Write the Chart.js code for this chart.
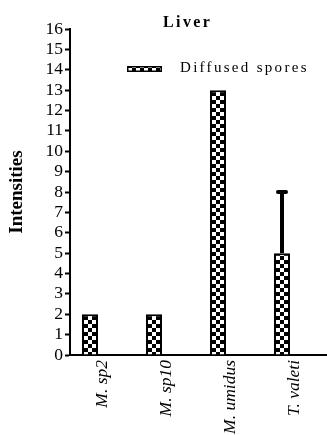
<!DOCTYPE html>
<html>
<head>
<meta charset="utf-8">
<script src="https://cdn.jsdelivr.net/npm/chart.js@4"></script>
<style>
  html, body { margin: 0; padding: 0; background: #fff; }
  #wrap { width: 327px; height: 435px; position: relative; }
</style>
</head>
<body>
<div id="wrap"><canvas id="c" width="327" height="435"></canvas></div>
<script>
const chartTitle = 'Liver';
const yAxisTitle = 'Intensities';
const categories = ['M. sp2', 'M. sp10', 'M. umidus', 'T. valeti'];
const seriesName = 'Diffused spores';
const diffusedSpores = [2, 2, 13, 5];
const errorPlus = [0, 0, 0, 3];
const yMin = 0, yMax = 16, yStep = 1;

const SERIF = '"Liberation Serif", "Times New Roman", serif';

function makeChecker() {
  const pc = document.createElement('canvas');
  pc.width = 8; pc.height = 8;
  const p = pc.getContext('2d');
  p.fillStyle = '#fff'; p.fillRect(0, 0, 8, 8);
  p.fillStyle = '#000';
  p.fillRect(0, 0, 4, 4);
  p.fillRect(4, 4, 4, 4);
  return document.getElementById('c').getContext('2d').createPattern(pc, 'repeat');
}
const checker = makeChecker();

const overlayPlugin = {
  id: 'overlay',
  afterDatasetsDraw(chart) {
    const ctx = chart.ctx;
    const meta = chart.getDatasetMeta(0);
    const y = chart.scales.y;
    ctx.save();
    ctx.strokeStyle = '#000';
    meta.data.forEach((bar, i) => {
      const e = errorPlus[i];
      if (!e) return;
      const top = y.getPixelForValue(diffusedSpores[i] + e);
      const base = y.getPixelForValue(diffusedSpores[i]);
      ctx.lineWidth = 4;
      ctx.lineCap = 'butt';
      ctx.beginPath();
      ctx.moveTo(bar.x, base);
      ctx.lineTo(bar.x, top);
      ctx.stroke();
      ctx.lineCap = 'round';
      ctx.beginPath();
      ctx.moveTo(bar.x - 4, top);
      ctx.lineTo(bar.x + 4, top);
      ctx.stroke();
    });
    ctx.restore();
  },
  afterDraw(chart) {
    const ctx = chart.ctx;
    const area = chart.chartArea;
    ctx.save();
    ctx.fillStyle = '#000';
    ctx.font = 'bold 16px ' + SERIF;
    ctx.textBaseline = 'alphabetic';
    ctx.textAlign = 'left';
    if ('letterSpacing' in ctx) ctx.letterSpacing = '2.4px';
    ctx.fillText(chartTitle, area.left + 93, 27);
    const lx = area.left + 57, ly = 66;
    ctx.fillStyle = checker;
    ctx.fillRect(lx, ly, 35, 6);
    ctx.strokeStyle = '#000';
    ctx.lineWidth = 1.5;
    ctx.strokeRect(lx + 0.75, ly + 0.75, 33.5, 4.5);
    ctx.fillStyle = '#000';
    ctx.font = '15px ' + SERIF;
    if ('letterSpacing' in ctx) ctx.letterSpacing = '2.3px';
    ctx.fillText(seriesName, lx + 53, 72);
    ctx.restore();
  }
};

new Chart(document.getElementById('c'), {
  type: 'bar',
  data: {
    labels: categories,
    datasets: [
      {
        label: seriesName,
        data: diffusedSpores,
        backgroundColor: checker,
        borderColor: '#000',
        borderWidth: 2,
        borderSkipped: 'start',
        categoryPercentage: 0.75,
        barPercentage: 0.667
      },
      {
        label: '',
        data: categories.map(() => null),
        backgroundColor: 'rgba(0,0,0,0)',
        categoryPercentage: 0.75,
        barPercentage: 0.667
      }
    ]
  },
  options: {
    responsive: false,
    animation: false,
    devicePixelRatio: 1,
    layout: { padding: { top: 29, right: 1, left: 0, bottom: 0 } },
    plugins: {
      legend: { display: false },
      title: { display: false },
      tooltip: { enabled: false }
    },
    scales: {
      x: {
        grid: { display: false, drawTicks: false },
        border: { display: true, color: '#000', width: 2 },
        ticks: {
          autoSkip: false,
          maxRotation: 90,
          minRotation: 90,
          padding: 5,
          color: '#000',
          font: { family: SERIF, size: 17.5, style: 'italic' }
        },
        afterFit(scale) { scale.height = 80; }
      },
      y: {
        min: yMin,
        max: yMax,
        grid: { drawOnChartArea: false, drawTicks: true, tickLength: 5, tickWidth: 2, tickColor: '#000' },
        border: { display: true, color: '#000', width: 2 },
        ticks: {
          stepSize: yStep,
          autoSkip: false,
          padding: 2,
          color: '#000',
          font: { family: SERIF, size: 17.5 }
        },
        title: {
          display: true,
          text: yAxisTitle,
          color: '#000',
          padding: { top: 6, bottom: 0 },
          font: { family: SERIF, size: 19, weight: 'bold' }
        },
        afterFit(scale) { scale.width = 70; }
      }
    }
  },
  plugins: [overlayPlugin]
});
</script>
</body>
</html>
